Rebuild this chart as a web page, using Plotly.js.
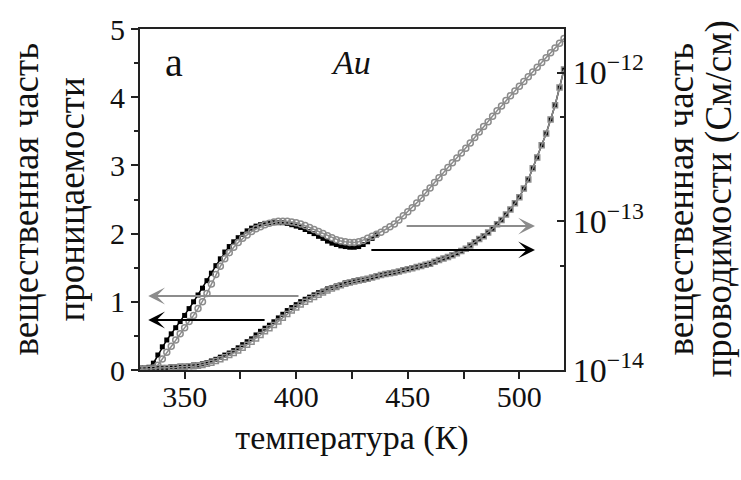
<!DOCTYPE html>
<html><head><meta charset="utf-8">
<script src="https://cdn.plot.ly/plotly-3.0.1.min.js"></script>
<style>html,body{margin:0;padding:0;background:#fff}#chart{width:741px;height:480px}</style>
</head><body><div id="chart"></div>
<script>
// Temperature, K
const temperature = [330,332,334,336,338,340,342,344,346,348,350,352,354,356,358,360,362,364,366,368,
370,372,374,376,378,380,382,384,386,388,390,392,394,396,398,400,402,404,406,408,
410,412,414,416,418,420,422,424,426,428,430,432,434,436,438,440,442,444,446,448,
450,452,454,456,458,460,462,464,466,468,470,472,474,476,478,480,482,484,486,488,
490,492,494,496,498,500,502,504,506,508,510,512,514,516,518,520];

// Real part of permittivity (left axis); black series hidden under gray beyond 436 K
const permBlack = [0.03,0.03,0.04,0.10,0.22,0.34,0.44,0.53,0.62,0.71,0.80,0.90,1.00,1.10,1.20,1.31,1.42,1.53,1.63,1.73,
1.81,1.88,1.94,1.99,2.04,2.08,2.11,2.13,2.15,2.16,2.16,2.16,2.16,2.15,2.13,2.11,2.09,2.06,2.03,2.00,
1.96,1.93,1.89,1.86,1.84,1.82,1.81,1.80,1.80,1.81,1.84,1.88,1.93,1.98,null,null,null,null,null,null,
null,null,null,null,null,null,null,null,null,null,null,null,null,null,null,null,null,null,null,null,
null,null,null,null,null,null,null,null,null,null,null,null,null,null,null,null];

const permGray = [0.02,0.02,0.02,0.03,0.07,0.16,0.26,0.35,0.44,0.53,0.62,0.71,0.80,0.90,1.00,1.12,1.26,1.40,1.52,1.63,
1.72,1.80,1.87,1.93,1.98,2.03,2.07,2.10,2.13,2.15,2.17,2.18,2.18,2.18,2.17,2.16,2.14,2.12,2.09,2.06,
2.03,2.00,1.97,1.94,1.91,1.89,1.88,1.87,1.87,1.88,1.90,1.93,1.96,1.99,2.02,2.06,2.10,2.14,2.20,2.26,
2.32,2.38,2.45,2.52,2.60,2.67,2.75,2.82,2.90,2.97,3.04,3.11,3.18,3.25,3.33,3.41,3.49,3.57,3.64,3.72,
3.80,3.87,3.95,4.02,4.09,4.16,4.23,4.30,4.37,4.44,4.51,4.58,4.65,4.72,4.79,4.86];

// Real part of conductivity, S/cm (right log axis)
const condBlack = [1.02e-14,1.02e-14,1.03e-14,1.03e-14,1.04e-14,1.04e-14,1.04e-14,1.05e-14,1.05e-14,1.06e-14,
1.06e-14,1.07e-14,1.08e-14,1.08e-14,1.10e-14,1.12e-14,1.15e-14,1.18e-14,1.22e-14,1.26e-14,
1.30e-14,1.35e-14,1.41e-14,1.48e-14,1.55e-14,1.62e-14,1.72e-14,1.82e-14,1.91e-14,2.00e-14,
2.11e-14,2.24e-14,2.37e-14,2.51e-14,2.63e-14,2.75e-14,2.88e-14,2.99e-14,3.09e-14,3.20e-14,
3.31e-14,3.39e-14,3.51e-14,3.59e-14,3.67e-14,3.76e-14,3.85e-14,3.89e-14,3.98e-14,4.03e-14,
4.07e-14,4.12e-14,4.19e-14,4.27e-14,4.35e-14,4.42e-14,4.47e-14,4.52e-14,4.60e-14,4.68e-14,
4.76e-14,4.84e-14,4.93e-14,5.01e-14,5.11e-14,5.19e-14,5.35e-14,5.50e-14,5.62e-14,5.75e-14,
5.92e-14,6.10e-14,6.31e-14,6.53e-14,6.87e-14,7.24e-14,7.59e-14,7.94e-14,8.41e-14,8.91e-14,
9.55e-14,1.02e-13,1.11e-13,1.20e-13,1.32e-13,1.45e-13,1.66e-13,1.91e-13,2.27e-13,2.69e-13,
3.24e-13,3.89e-13,4.84e-13,6.03e-13,7.94e-13,1.05e-12];

const condGray = [1.01e-14,1.01e-14,1.02e-14,1.02e-14,1.03e-14,1.03e-14,1.03e-14,1.04e-14,1.04e-14,1.05e-14,
1.05e-14,1.06e-14,1.06e-14,1.07e-14,1.08e-14,1.10e-14,1.12e-14,1.15e-14,1.18e-14,1.22e-14,
1.26e-14,1.30e-14,1.35e-14,1.41e-14,1.48e-14,1.55e-14,1.63e-14,1.72e-14,1.82e-14,1.91e-14,
2.01e-14,2.12e-14,2.25e-14,2.38e-14,2.51e-14,2.63e-14,2.76e-14,2.88e-14,2.99e-14,3.10e-14,
3.21e-14,3.32e-14,3.42e-14,3.53e-14,3.62e-14,3.71e-14,3.80e-14,3.87e-14,3.94e-14,4.00e-14,
4.05e-14,4.11e-14,4.18e-14,4.27e-14,4.35e-14,4.42e-14,4.47e-14,4.52e-14,4.60e-14,4.68e-14,
4.76e-14,4.84e-14,4.93e-14,5.01e-14,5.11e-14,5.19e-14,5.35e-14,5.50e-14,5.62e-14,5.75e-14,
5.92e-14,6.10e-14,6.31e-14,6.53e-14,6.87e-14,7.24e-14,7.59e-14,7.94e-14,8.41e-14,8.91e-14,
9.55e-14,1.02e-13,1.11e-13,1.20e-13,1.32e-13,1.45e-13,1.66e-13,1.91e-13,2.27e-13,2.69e-13,
3.24e-13,3.89e-13,4.84e-13,6.03e-13,7.94e-13,1.05e-12];

// Tick labels of the right (log) axis
const condTickVals = [1e-14, 1e-13, 1e-12];
const condTickText = ['10<sup>\u221214</sup>', '10<sup>\u221213</sup>', '10<sup>\u221212</sup>'];

const xTitle = 'температура (К)';
const leftTitle = ['вещественная часть', 'проницаемости'];
const rightTitle = ['вещественная часть', 'проводимости (См/см)'];

const BLACK = '#000000';
const GRAY = '#8c8c8c';
const FONT = 'Liberation Serif';

const traces = [
  {x: temperature, y: permBlack, mode: 'lines+markers', yaxis: 'y', connectgaps: false,
   line: {color: BLACK, width: 1.5}, marker: {symbol: 'square', size: 5, color: BLACK}},
  {x: temperature, y: condBlack, mode: 'lines+markers', yaxis: 'y2',
   line: {color: BLACK, width: 1.5}, marker: {symbol: 'square', size: 5, color: BLACK}},
  {x: temperature, y: permGray, mode: 'lines+markers', yaxis: 'y',
   line: {color: GRAY, width: 1.5}, marker: {symbol: 'circle-open', size: 6, color: GRAY, line: {width: 1.5, color: GRAY}}},
  {x: temperature, y: condGray, mode: 'lines+markers', yaxis: 'y2',
   line: {color: GRAY, width: 1.5}, marker: {symbol: 'square-open', size: 5, color: GRAY, line: {width: 1.5, color: GRAY}}}
];

function arrow(x, y, ax, color) {
  return {x: x, y: y, ax: ax, ay: y, xref: 'x', yref: 'y', axref: 'x', ayref: 'y',
    text: '', showarrow: true, arrowhead: 3, arrowsize: 1.4, arrowwidth: 2, arrowcolor: color, standoff: 0};
}
function vtitle(txt, xpx) {
  return {text: txt, xref: 'paper', yref: 'paper', x: (xpx - 140) / 424, y: 0.5,
    xanchor: 'center', yanchor: 'middle', textangle: -90, showarrow: false,
    font: {family: FONT, size: 37, color: '#111'}};
}

const layout = {
  width: 741, height: 480,
  margin: {l: 140, r: 177, t: 29, b: 110},
  paper_bgcolor: '#ffffff', plot_bgcolor: '#ffffff',
  showlegend: false,
  font: {family: FONT, size: 30, color: '#111'},
  xaxis: {range: [330, 520], tick0: 350, dtick: 50, ticks: 'outside', ticklen: 7, tickwidth: 2, tickcolor: '#222',
    showline: true, linewidth: 2, linecolor: '#222', mirror: true, showgrid: false, zeroline: false,
    minor: {tick0: 325, dtick: 25, ticks: 'outside', ticklen: 7, tickwidth: 2, tickcolor: '#222'},
    tickfont: {family: FONT, size: 30, color: '#111'}, ticklabelstandoff: -8,
    title: {text: xTitle, font: {family: FONT, size: 34, color: '#111'}, standoff: 13}},
  yaxis: {range: [0, 5], dtick: 1, ticks: 'outside', ticklen: 7, tickwidth: 2, tickcolor: '#222',
    showline: true, linewidth: 2, linecolor: '#222', showgrid: false, zeroline: false,
    minor: {dtick: 0.5, ticks: 'outside', ticklen: 4, tickwidth: 2, tickcolor: '#222'},
    tickfont: {family: FONT, size: 30, color: '#111'}},
  yaxis2: {type: 'log', overlaying: 'y', side: 'right', range: [-14, -11.707],
    tickmode: 'array', tickvals: condTickVals, ticktext: condTickText,
    ticks: 'inside', ticklen: 7, tickwidth: 2, tickcolor: '#222',
    showline: true, linewidth: 2, linecolor: '#222', showgrid: false, zeroline: false,
    minor: {tickmode: 'array', tickvals: [5e-14, 5e-13], ticks: 'inside', ticklen: 4, tickwidth: 2, tickcolor: '#222'},
    tickfont: {family: FONT, size: 34, color: '#111'}},
  annotations: [
    arrow(333.7, 1.085, 401.7, GRAY),
    arrow(333.7, 0.733, 386.5, BLACK),
    arrow(507, 2.11, 448.8, GRAY),
    arrow(507, 1.76, 433, BLACK),
    {text: 'a', xref: 'paper', yref: 'paper', x: 0.081, y: 0.902, xanchor: 'center', yanchor: 'middle',
     showarrow: false, font: {family: FONT, size: 40, color: '#111'}},
    {text: '<i>Au</i>', xref: 'paper', yref: 'paper', x: 0.498, y: 0.902, xanchor: 'center', yanchor: 'middle',
     showarrow: false, font: {family: FONT, size: 34, color: '#111'}},
    vtitle(leftTitle[0], 25), vtitle(leftTitle[1], 71),
    vtitle(rightTitle[0], 680), vtitle(rightTitle[1], 718)
  ]
};

Plotly.newPlot('chart', traces, layout, {staticPlot: true, displayModeBar: false});
</script>
</body></html>
